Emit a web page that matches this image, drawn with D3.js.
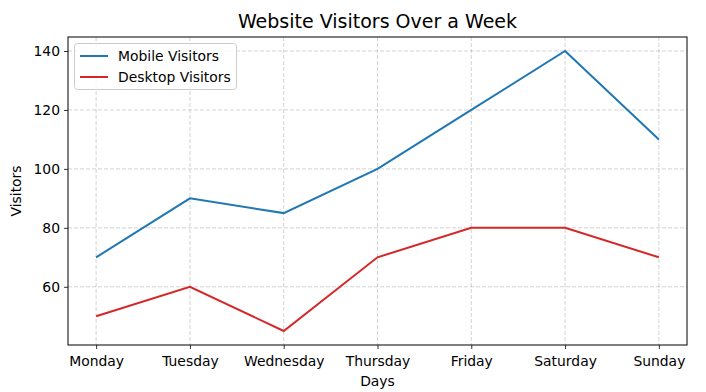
<!DOCTYPE html>
<html><head><meta charset="utf-8">
<script src="https://cdn.jsdelivr.net/npm/d3@7"></script>
<style>body{margin:0;background:#fff}svg{display:block}text{font-family:"DejaVu Sans",sans-serif}</style>
</head><body><svg id="c" width="706" height="392"></svg>
<script>
const days = ["Monday","Tuesday","Wednesday","Thursday","Friday","Saturday","Sunday"];
const mobile = [70, 90, 85, 100, 120, 140, 110];
const desktop = [50, 60, 45, 70, 80, 80, 70];
const yTicks = [60, 80, 100, 120, 140];
const seriesNames = ["Mobile Visitors", "Desktop Visitors"];
const colors = ["#1f77b4", "#d62728"];

const svg = d3.select("#c");
const L = 68, R = 687, T = 37, B = 345;
const FS = 13.9;
const x = d3.scalePoint().domain(days).range([L, R]).padding(0.3);
const allV = mobile.concat(desktop);
const mn = d3.min(allV), mx = d3.max(allV), m = (mx - mn) * 0.05;
const y = d3.scaleLinear().domain([mn - m, mx + m]).range([B, T]);

// grid
const g = svg.append("g");
days.forEach(d => g.append("line").attr("x1", x(d)).attr("x2", x(d)).attr("y1", T).attr("y2", B)
  .attr("stroke", "#b0b0b0").attr("stroke-opacity", 0.7).attr("stroke-dasharray", "4,2").attr("stroke-width", 0.8));
yTicks.forEach(v => g.append("line").attr("x1", L).attr("x2", R).attr("y1", y(v)).attr("y2", y(v))
  .attr("stroke", "#b0b0b0").attr("stroke-opacity", 0.7).attr("stroke-dasharray", "4,2").attr("stroke-width", 0.8));

// axes
const xa = svg.append("g").attr("transform", `translate(0,${B})`).call(d3.axisBottom(x).tickSize(4).tickPadding(4));
const ya = svg.append("g").attr("transform", `translate(${L},0)`).call(d3.axisLeft(y).tickValues(yTicks).tickSize(4).tickPadding(4));
[xa, ya].forEach(a => { a.select(".domain").remove(); a.selectAll("text").attr("font-size", FS).attr("fill", "#000").attr("font-family", "DejaVu Sans"); a.selectAll("line").attr("stroke", "#000").attr("stroke-width", 0.8); });
xa.selectAll("text").attr("dy", "0.9em");

// lines
const line = d3.line().x((d, i) => x(days[i])).y(d => y(d));
[mobile, desktop].forEach((s, k) => svg.append("path").datum(s).attr("d", line)
  .attr("fill", "none").attr("stroke", colors[k]).attr("stroke-width", 2).attr("stroke-linejoin", "miter"));

// frame
svg.append("rect").attr("x", L).attr("y", T).attr("width", R - L).attr("height", B - T)
  .attr("fill", "none").attr("stroke", "#000").attr("stroke-width", 1);

// labels
svg.append("text").attr("x", (L + R) / 2).attr("y", 28).attr("text-anchor", "middle")
  .attr("font-size", 19).attr("font-family", "'Comic Sans MS','Comic Neue',cursive").text("Website Visitors Over a Week");
svg.append("text").attr("x", (L + R) / 2).attr("y", 386).attr("text-anchor", "middle").attr("font-size", FS).text("Days");
svg.append("text").attr("transform", `translate(21,${(T + B) / 2}) rotate(-90)`).attr("text-anchor", "middle").attr("font-size", FS).text("Visitors");

// legend
const lg = svg.append("g");
lg.append("rect").attr("x", 74.5).attr("y", 43.5).attr("width", 162).attr("height", 46).attr("rx", 3)
  .attr("fill", "#fff").attr("fill-opacity", 0.8).attr("stroke", "#ccc");
seriesNames.forEach((n, k) => {
  const yy = 56 + k * 21;
  lg.append("line").attr("x1", 80).attr("x2", 108).attr("y1", yy).attr("y2", yy).attr("stroke", colors[k]).attr("stroke-width", 2);
  lg.append("text").attr("x", 118).attr("y", yy + 5).attr("font-size", FS).text(n);
});
</script></body></html>
